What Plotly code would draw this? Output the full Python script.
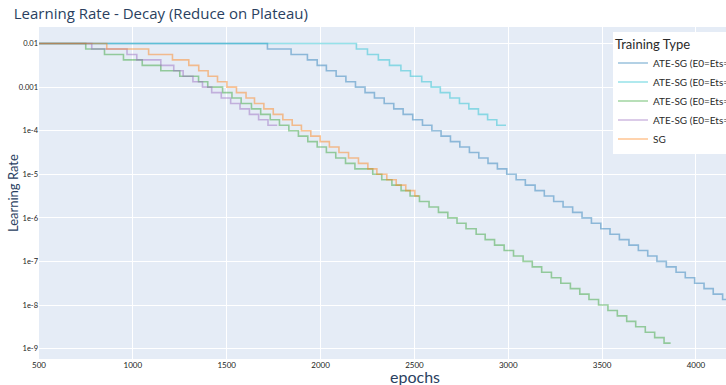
import plotly.graph_objects as go

# Learning-rate levels (each plateau step lowers the rate by one level)
lr_levels = [
    0.01, 0.0075, 0.005625, 0.0042188, 0.0031641, 0.0023730, 0.0017798, 0.0013348, 0.0010011, 7.5085e-4,
    5.6314e-4, 4.2235e-4, 3.1676e-4, 2.3757e-4, 1.7818e-4, 1.3363e-4, 1.0023e-4, 7.5169e-5, 5.6377e-5, 4.2283e-5,
    3.1712e-5, 2.3784e-5, 1.7838e-5, 1.3379e-5, 1.0034e-5, 7.5254e-6, 5.6440e-6, 4.2330e-6, 3.1748e-6, 2.3811e-6,
    1.7858e-6, 1.3394e-6, 1.0045e-6, 7.5339e-7, 5.6504e-7, 4.2378e-7, 3.1784e-7, 2.3838e-7, 1.7878e-7, 1.3409e-7,
    1.0057e-7, 7.5424e-8, 5.6568e-8, 4.2426e-8, 3.1820e-8, 2.3865e-8, 1.7899e-8, 1.3424e-8, 1.0068e-8, 7.5509e-9,
    5.6632e-9, 4.2474e-9, 3.1855e-9, 2.3892e-9, 1.7919e-9, 1.3439e-9,
]

start_epoch = 500

# epochs at which each series dropped to the next level, and the last epoch of each series
ate1_steps = [1717, 1843, 1930, 1982, 2031, 2083, 2135, 2186, 2237, 2287, 2339, 2390, 2440, 2491, 2543, 2593,
              2642, 2692, 2742, 2793, 2843, 2892, 2942, 2992, 3042, 3091, 3143, 3192, 3242, 3292, 3343, 3393,
              3443, 3493, 3542, 3592, 3643, 3693, 3743, 3792, 3842, 3894, 3943, 3993, 4043, 4092, 4142]
ate1_end = 4190

ate10_steps = [2191, 2250, 2308, 2367, 2428, 2479, 2539, 2589, 2638, 2689, 2740, 2790, 2841, 2890, 2939]
ate10_end = 2988

ate100_steps = [749, 849, 950, 1050, 1149, 1250, 1350, 1399, 1478, 1528, 1577, 1632, 1681, 1732, 1781, 1831,
                1882, 1932, 1982, 2031, 2081, 2133, 2183, 2278, 2326, 2380, 2429, 2477, 2527, 2578, 2628, 2678,
                2727, 2775, 2829, 2877, 2927, 2978, 3028, 3079, 3128, 3178, 3230, 3280, 3331, 3381, 3430, 3481,
                3531, 3581, 3631, 3679, 3730, 3780, 3830]
ate100_end = 3865

ate250_steps = [781, 969, 1021, 1149, 1218, 1268, 1320, 1371, 1420, 1471, 1521, 1571, 1621, 1670, 1720]
ate250_end = 1769

sg_steps = [861, 1084, 1211, 1298, 1351, 1401, 1451, 1501, 1552, 1603, 1648, 1698, 1748, 1799, 1849, 1898,
            1948, 1998, 2047, 2098, 2149, 2202, 2252, 2300, 2353, 2403, 2454, 2502]
sg_end = 2525

series_names = ["ATE-SG (E0=Ets=1)", "ATE-SG (E0=Ets=10)", "ATE-SG (E0=Ets=100)",
                "ATE-SG (E0=Ets=250)", "SG"]
series_steps = [ate1_steps, ate10_steps, ate100_steps, ate250_steps, sg_steps]
series_ends = [ate1_end, ate10_end, ate100_end, ate250_end, sg_end]
series_colors = ["rgba(31,119,180,0.45)", "rgba(23,190,207,0.45)", "rgba(44,160,44,0.45)",
                 "rgba(148,103,189,0.45)", "rgba(255,127,14,0.45)"]

x_tick_vals = [500, 1000, 1500, 2000, 2500, 3000, 3500, 4000]
y_tick_vals = [1e-2, 1e-3, 1e-4, 1e-5, 1e-6, 1e-7, 1e-8, 1e-9]
y_tick_text = ["0.01", "0.001", "1e-4", "1e-5", "1e-6", "1e-7", "1e-8", "1e-9"]

fig = go.Figure()
for name, steps, end, color in zip(series_names, series_steps, series_ends, series_colors):
    xs = [start_epoch] + steps + [end]
    ys = lr_levels[:len(steps) + 1] + [lr_levels[len(steps)]]
    fig.add_trace(go.Scatter(x=xs, y=ys, mode="lines", name=name,
                             line=dict(color=color, width=1.6, shape="hv")))

label_font = "Gill Sans, Gill Sans MT, Lato, sans-serif"

fig.update_layout(
    width=726, height=385,
    template="plotly",
    margin=dict(l=39, r=0, t=27, b=26, autoexpand=False),
    font=dict(family=label_font, size=10, color="#2a3f5f"),
    title=dict(text="Learning Rate - Decay (Reduce on Plateau)",
               font=dict(family="Open Sans, sans-serif", size=15, color="#2a3f5f"),
               x=0.019, xanchor="left", xref="container",
               y=0.963, yanchor="middle", yref="container"),
    legend=dict(title=dict(text="Training Type", font=dict(size=13, color="#2a2a2a")),
                font=dict(size=10, color="#2a2a2a"),
                bgcolor="white", x=0.8355, xanchor="left", y=0.986, yanchor="top"),
    xaxis=dict(range=[500, 4160], tickvals=x_tick_vals, showgrid=True, zeroline=False,
               tickfont=dict(size=8, color="#222"), ticks=""),
    yaxis=dict(type="log", range=[-9.236, -1.62], tickvals=y_tick_vals, ticktext=y_tick_text,
               tickfont=dict(size=7.5, color="#222"), ticks=""),
    annotations=[
        dict(text="epochs", x=0.547, xref="paper", y=-0.052, yref="paper",
             showarrow=False, yanchor="middle", xanchor="center",
             font=dict(family=label_font, size=16, color="#2a3f5f")),
        dict(text="Learning Rate", x=-0.0378, xref="paper", y=0.5, yref="paper", textangle=-90,
             showarrow=False, yanchor="middle", xanchor="center",
             font=dict(family=label_font, size=13, color="#2a3f5f")),
    ],
)

fig.write_html("out.html", config={"displayModeBar": False},
               post_script="document.body.style.margin='0px';")
